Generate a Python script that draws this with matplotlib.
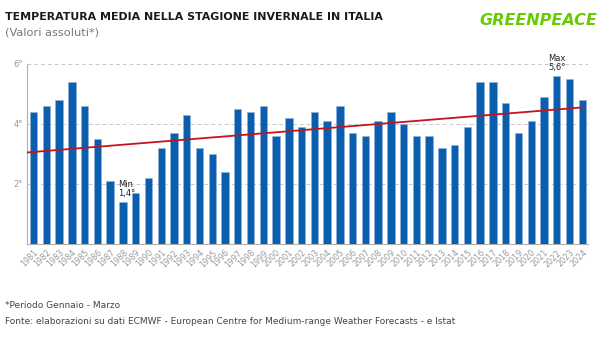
import matplotlib
matplotlib.use("Agg")
import matplotlib.pyplot as plt

# data
years = [str(y) for y in range(1981, 2025)]
temps = [4.4, 4.6, 4.8, 5.4, 4.6, 3.5, 2.1, 1.4, 1.7, 2.2,
         3.2, 3.7, 4.3, 3.2, 3.0, 2.4, 4.5, 4.4, 4.6, 3.6,
         4.2, 3.9, 4.4, 4.1, 4.6, 3.7, 3.6, 4.1, 4.4, 4.0,
         3.6, 3.6, 3.2, 3.3, 3.9, 5.4, 5.4, 4.7, 3.7, 4.1,
         4.9, 5.6, 5.5, 4.8]
trend_ends = [3.05, 4.55]   # trend line value at 1981 and at 2024
y_ticks = [2, 4, 6]

BAR_BLUE = "#0A5EAE"
TREND_RED = "#C4141C"
GRAY = "#9A9A9A"

fig = plt.figure(figsize=(6, 3.38), dpi=100)
ax = fig.add_axes([0.045, 0.278, 0.935, 0.533])

x = list(range(len(years)))
ax.bar(x, temps, width=0.58, color=BAR_BLUE, edgecolor="#8FB3DA",
       linewidth=0.4, zorder=2)

# trend line
ax.plot([x[0] - 0.5, x[-1]], trend_ends, color=TREND_RED, linewidth=1.3,
        zorder=3)

# min / max labels
i_min = temps.index(min(temps))
i_max = temps.index(max(temps))
ax.text(i_min - 0.35, temps[i_min] + 0.12, "Min\n1,4°", fontsize=6,
        ha="left", va="bottom", linespacing=1.0, color="#222222")
ax.text(i_max, temps[i_max] + 0.12, "Max\n5,6°", fontsize=6,
        ha="center", va="bottom", linespacing=1.0, color="#222222")

ax.set_xlim(-0.52, len(years) - 0.55)
ax.set_ylim(0, 6)
ax.set_xticks(x)
ax.set_xticklabels(years, rotation=45, ha="right", rotation_mode="anchor",
                   fontsize=5.8, color=GRAY)
ax.set_yticks(y_ticks)
ax.set_yticklabels([f"{t}°" for t in y_ticks], fontsize=6, color=GRAY)
ax.tick_params(axis="both", length=0, pad=3)

ax.yaxis.grid(True, linestyle=(0, (4, 3)), color="#C8C8C8", linewidth=0.7)
ax.set_axisbelow(True)
for side in ["top", "right"]:
    ax.spines[side].set_visible(False)
ax.spines["left"].set_color("#B0B0B0")
ax.spines["bottom"].set_color("#B0B0B0")
ax.spines["left"].set_linewidth(0.8)
ax.spines["bottom"].set_linewidth(0.8)

# titles
fig.text(0.009, 0.95, "TEMPERATURA MEDIA NELLA STAGIONE INVERNALE IN ITALIA",
         fontsize=7.9, fontweight="bold", color="#1A1A1A", va="center")
fig.text(0.009, 0.905, "(Valori assoluti*)", fontsize=8.2, color="#777777",
         va="center")
fig.text(0.995, 0.94, "GREENPEACE", fontsize=11.5, fontweight="bold",
         fontstyle="italic", color="#66CC00", ha="right", va="center")

# footnotes
fig.text(0.009, 0.097, "*Periodo Gennaio - Marzo", fontsize=6.5,
         color="#444444", va="center")
fig.text(0.009, 0.05, "Fonte: elaborazioni su dati ECMWF - European Centre for "
         "Medium-range Weather Forecasts - e Istat", fontsize=6.5,
         color="#444444", va="center")

fig.savefig("out.png", dpi=100)
